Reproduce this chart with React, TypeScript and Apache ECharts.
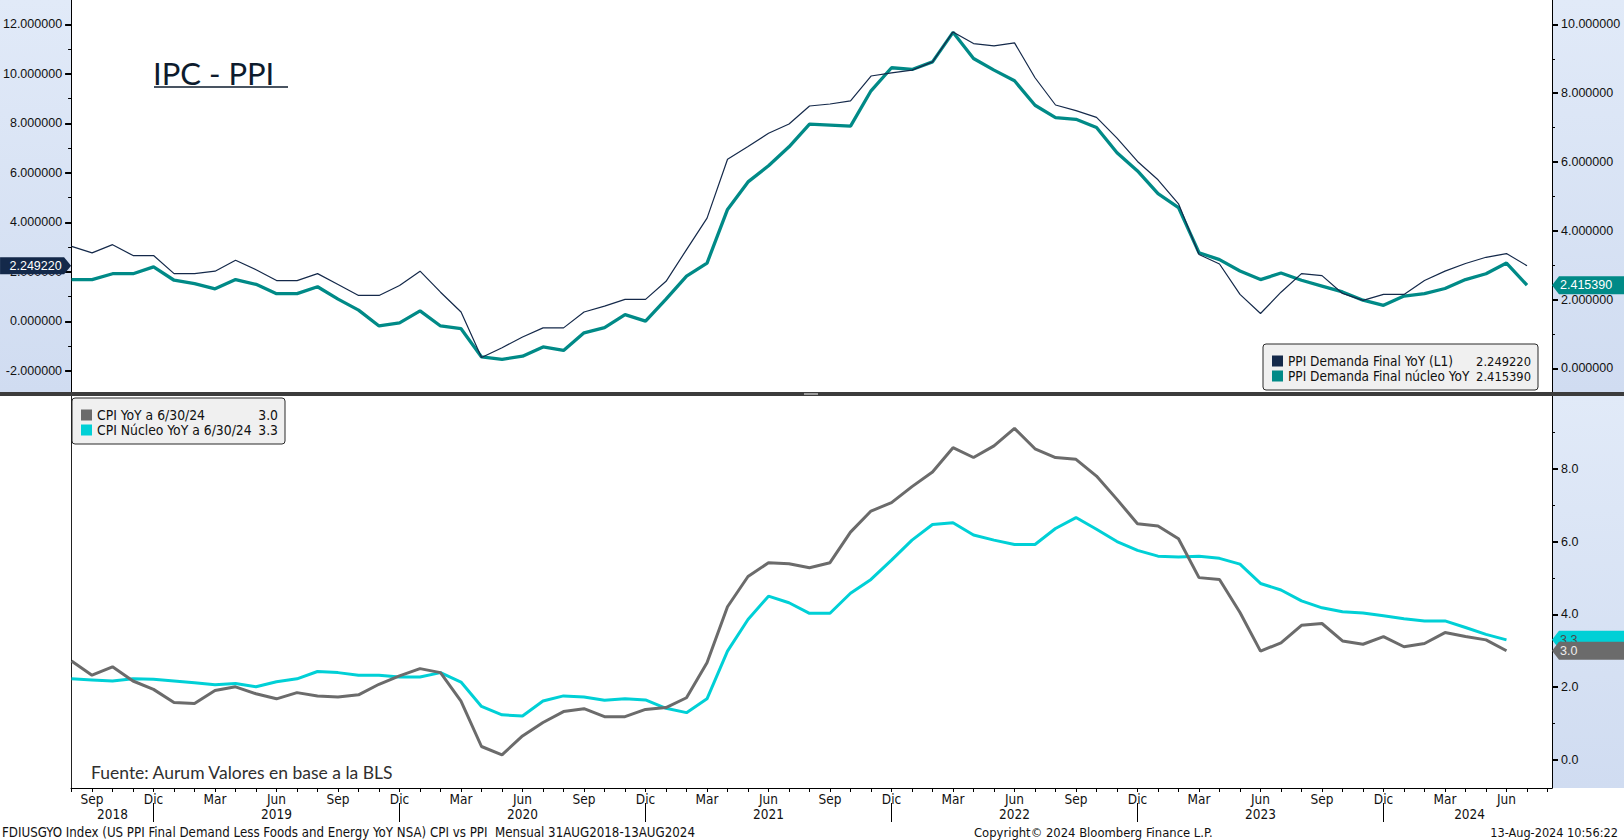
import React, { useEffect, useRef } from "react";
import * as echarts from "echarts";

// x positions are months counted from Jan 2018 (= 0); Aug 2018 = 7
const FIRST_MONTH = 7;
const X_MIN = 6.976;
const X_MAX = 79.22;

// PPI Final Demand YoY, Aug 2018 .. Jul 2024 (left axis)
const ppiFinalDemand = [
  3.03, 2.77, 3.1, 2.66, 2.66,
  1.93, 1.93, 2.03, 2.47, 2.09, 1.65, 1.65, 1.93, 1.49, 1.05, 1.05, 1.45,
  2.03, 1.18, 0.38, -1.46, -1.06, -0.63, -0.26, -0.26, 0.38, 0.62, 0.89, 0.89,
  1.62, 2.9, 4.17, 6.55, 7.06, 7.6, 7.97, 8.7, 8.78, 8.91, 9.91, 10.04,
  10.15, 10.48, 11.69, 11.22, 11.13, 11.25, 9.84, 8.74, 8.51, 8.24, 7.4, 6.46,
  5.72, 4.75, 2.7, 2.32, 1.09, 0.32, 1.18, 1.93, 1.85, 1.13, 0.85, 1.09,
  1.09, 1.65, 2.03, 2.34, 2.59, 2.74, 2.24922,
];

// PPI Final Demand less foods & energy YoY, Aug 2018 .. Jul 2024 (right axis)
const ppiCoreFinalDemand = [
  2.58, 2.58, 2.75, 2.75, 2.95,
  2.56, 2.46, 2.31, 2.58, 2.44, 2.17, 2.17, 2.37, 2.01, 1.69, 1.23, 1.32,
  1.67, 1.23, 1.15, 0.33, 0.26, 0.35, 0.62, 0.52, 1.03, 1.18, 1.56, 1.37,
  2.01, 2.68, 3.06, 4.62, 5.42, 5.89, 6.44, 7.1, 7.07, 7.04, 8.07, 8.74,
  8.69, 8.91, 9.77, 9.01, 8.67, 8.36, 7.65, 7.29, 7.24, 7.0, 6.27, 5.74,
  5.08, 4.67, 3.36, 3.16, 2.83, 2.58, 2.77, 2.56, 2.39, 2.22, 1.98, 1.83,
  2.1, 2.17, 2.32, 2.58, 2.75, 3.06, 2.41539,
];

// CPI YoY, Aug 2018 .. Jun 2024
const cpiYoY = [
  2.72, 2.33, 2.56, 2.17, 1.94,
  1.58, 1.55, 1.91, 2.01, 1.82, 1.68, 1.85, 1.76, 1.73, 1.79, 2.08, 2.31,
  2.51, 2.4, 1.62, 0.37, 0.14, 0.66, 1.03, 1.33, 1.41, 1.19, 1.19, 1.39,
  1.44, 1.71, 2.67, 4.21, 5.04, 5.42, 5.39, 5.28, 5.42, 6.26, 6.84, 7.07,
  7.51, 7.91, 8.58, 8.31, 8.63, 9.11, 8.55, 8.31, 8.26, 7.8, 7.16, 6.49,
  6.43, 6.08, 5.01, 4.96, 4.05, 2.99, 3.22, 3.7, 3.75, 3.27, 3.18, 3.39,
  3.11, 3.2, 3.5, 3.39, 3.3, 3.0,
];

// Core CPI YoY, Aug 2018 .. Jun 2024
const cpiCoreYoY = [
  2.23, 2.2, 2.17, 2.23, 2.22,
  2.17, 2.12, 2.07, 2.1, 2.01, 2.15, 2.23, 2.43, 2.4, 2.33, 2.33, 2.28,
  2.28, 2.4, 2.14, 1.47, 1.24, 1.21, 1.62, 1.76, 1.73, 1.64, 1.68, 1.65,
  1.42, 1.3, 1.68, 2.99, 3.86, 4.5, 4.32, 4.03, 4.03, 4.58, 4.96, 5.49,
  6.04, 6.47, 6.52, 6.18, 6.04, 5.92, 5.92, 6.36, 6.66, 6.34, 6.0, 5.76,
  5.6, 5.58, 5.6, 5.54, 5.38, 4.85, 4.67, 4.37, 4.18, 4.07, 4.04, 3.96,
  3.88, 3.82, 3.82, 3.64, 3.45, 3.3,
];

const seriesNames = [
  "PPI Demanda Final YoY (L1)",
  "PPI Demanda Final núcleo YoY",
  "CPI YoY a 6/30/24",
  "CPI Núcleo YoY a 6/30/24",
];
const seriesColors = ["#14294a", "#008a87", "#6b6b6b", "#00d0d6"];

const monthNames = ["Ene", "Feb", "Mar", "Abr", "May", "Jun", "Jul", "Ago", "Sep", "Oct", "Nov", "Dic"];
const monthLabelPos = [8, 11, 14, 17, 20, 23, 26, 29, 32, 35, 38, 41, 44, 47, 50, 53, 56, 59, 62, 65, 68, 71, 74, 77];
const yearLabels = ["2018", "2019", "2020", "2021", "2022", "2023", "2024"];
const yearLabelPos = [9, 17, 29, 41, 53, 65, 75.2];
const yearBreakPos = [11, 23, 35, 47, 59, 71];

const leftTicks = [-2, 0, 2, 4, 6, 8, 10, 12];
const leftMinorTicks = [-1, 1, 3, 5, 7, 9, 11];
const rightTopTicks = [0, 2, 4, 6, 8, 10];
const rightTopMinorTicks = [1, 3, 5, 7, 9];
const bottomTicks = [0, 2, 4, 6, 8];
const bottomMinorTicks = [1, 3, 5, 7, 9];

const titleText = "IPC - PPI";
const sourceText = "Fuente: Aurum Valores en base a la BLS";
const footerLeft = "FDIUSGYO Index (US PPI Final Demand Less Foods and Energy YoY NSA) CPI vs PPI  Mensual 31AUG2018-13AUG2024";
const footerCenter = "Copyright\u00A9 2024 Bloomberg Finance L.P.";
const footerRight = "13-Aug-2024 10:56:22";

const AXIS_FONT = "'Liberation Sans', Arial, sans-serif";
const NARROW_FONT = "'Liberation Sans Narrow', 'DejaVu Sans Condensed', 'Liberation Sans', sans-serif";
const BRAND_FONT = "Lato, 'Open Sans', sans-serif";

const toPairs = (vals: number[]) => vals.map((v, i) => [FIRST_MONTH + i, v]);
const last = (a: number[]) => a[a.length - 1];

const monthTicks: number[] = [];
for (let m = FIRST_MONTH; m <= Math.floor(X_MAX); m++) monthTicks.push(m);

function yAxisMain(gridIndex: number, position: string, min: number, max: number, ticks: number[], digits: number) {
  return {
    type: "value",
    gridIndex,
    position,
    min,
    max,
    axisLine: { show: true, onZero: false, lineStyle: { color: "#000", width: 1 } },
    axisTick: { show: true, customValues: ticks, length: 6, lineStyle: { color: "#000", width: 2 } },
    axisLabel: {
      show: true,
      customValues: ticks,
      formatter: (v: number) => v.toFixed(digits),
      margin: 9,
      color: "#111",
      fontSize: 12.5,
      fontFamily: AXIS_FONT,
    },
    splitLine: { show: false },
  };
}

function yAxisMinor(gridIndex: number, position: string, min: number, max: number, ticks: number[]) {
  return {
    type: "value",
    gridIndex,
    position,
    min,
    max,
    axisLine: { show: false, onZero: false },
    axisTick: { show: true, customValues: ticks, length: 3, lineStyle: { color: "#000", width: 1 } },
    axisLabel: { show: false },
    splitLine: { show: false },
  };
}

function tag(xSide: "left" | "right", value: number, text: string, color: string, textColor: string, z: number) {
  const isLeft = xSide === "left";
  return {
    silent: true,
    z,
    animation: false,
    symbol: isLeft ? "path://M0,0 L64,0 L71,8.5 L64,17 L0,17 Z" : "path://M0,8.5 L7,0 L72,0 L72,17 L7,17 Z",
    symbolSize: isLeft ? [71, 17] : [72, 18],
    symbolOffset: [isLeft ? "-50%" : "50%", 0],
    symbolKeepAspect: false,
    itemStyle: { color },
    label: {
      show: true,
      position: isLeft ? "inside" : "insideLeft",
      distance: 8,
      formatter: () => text,
      color: textColor,
      fontSize: 12.5,
      fontFamily: AXIS_FONT,
    },
    emphasis: { disabled: true },
    data: [{ coord: [isLeft ? X_MIN : X_MAX, value] }],
  };
}

function legendBox(
  x: number,
  y: number,
  w: number,
  items: { name: string; value: string; color: string }[],
  textX: number,
  valueX: number,
  fontSize: number,
  valueFontSize: number
) {
  const children: any[] = [
    {
      type: "rect",
      shape: { x, y, width: w, height: 46, r: 3 },
      style: { fill: "#f0f0f0", stroke: "#2a2a2a", lineWidth: 1 },
    },
  ];
  items.forEach((it, i) => {
    const cy = y + 17 + i * 15;
    children.push({ type: "rect", shape: { x: x + 9, y: cy - 5.5, width: 11, height: 11 }, style: { fill: it.color } });
    children.push({
      type: "text",
      x: textX,
      y: cy,
      style: { text: it.name, fill: "#111", fontSize, fontFamily: NARROW_FONT, align: "left", verticalAlign: "middle" },
    });
    children.push({
      type: "text",
      x: valueX,
      y: cy,
      style: { text: it.value, fill: "#111", fontSize: valueFontSize, fontFamily: NARROW_FONT, align: "right", verticalAlign: "middle" },
    });
  });
  return { type: "group", z: 20, silent: true, children };
}

export default function App() {
  const ref = useRef<HTMLDivElement>(null);

  useEffect(() => {
    if (!ref.current) return;
    const chart = echarts.init(ref.current, null, { renderer: "svg" });

    const band = () =>
      new echarts.graphic.LinearGradient(0, 0, 0, 1, [
        { offset: 0, color: "#e1eaf8" },
        { offset: 1, color: "#d0dcf1" },
      ]);

    const option: any = {
      animation: false,
      backgroundColor: "#ffffff",
      grid: [
        { left: 71, right: 72, top: 0, height: 392, containLabel: false },
        { left: 71, right: 72, top: 396, height: 392, containLabel: false },
      ],
      xAxis: [
        { type: "value", gridIndex: 0, min: X_MIN, max: X_MAX, show: false },
        {
          type: "value",
          gridIndex: 1,
          min: X_MIN,
          max: X_MAX,
          position: "bottom",
          axisLine: { show: true, onZero: false, lineStyle: { color: "#000", width: 1 } },
          axisTick: { show: true, customValues: monthTicks, length: 4, lineStyle: { color: "#000", width: 1 } },
          axisLabel: {
            show: true,
            customValues: monthLabelPos,
            formatter: (v: number) => monthNames[((Math.round(v) % 12) + 12) % 12],
            margin: 4,
            color: "#111",
            fontSize: 13.5,
            fontFamily: NARROW_FONT,
          },
          splitLine: { show: false },
        },
        {
          type: "value",
          gridIndex: 1,
          min: X_MIN,
          max: X_MAX,
          position: "bottom",
          offset: 15,
          axisLine: { show: false, onZero: false },
          axisTick: { show: true, customValues: yearBreakPos, length: 19, lineStyle: { color: "#000", width: 1 } },
          axisLabel: {
            show: true,
            customValues: yearLabelPos,
            formatter: (v: number) => {
              const i = yearLabelPos.findIndex((p) => Math.abs(p - v) < 1e-6);
              return i >= 0 ? yearLabels[i] : "";
            },
            margin: 4,
            color: "#111",
            fontSize: 13.5,
            fontFamily: NARROW_FONT,
          },
          splitLine: { show: false },
        },
      ],
      yAxis: [
        yAxisMain(0, "left", -2.85, 12.98, leftTicks, 6),
        yAxisMain(0, "right", -0.69, 10.71, rightTopTicks, 6),
        yAxisMinor(0, "left", -2.85, 12.98, leftMinorTicks),
        yAxisMinor(0, "right", -0.69, 10.71, rightTopMinorTicks),
        yAxisMain(1, "right", -0.77, 10.0, bottomTicks, 1),
        yAxisMinor(1, "right", -0.77, 10.0, bottomMinorTicks),
        {
          type: "value",
          gridIndex: 1,
          position: "left",
          min: -0.77,
          max: 10.0,
          axisLine: { show: true, onZero: false, lineStyle: { color: "#222", width: 1 } },
          axisTick: { show: false },
          axisLabel: { show: false },
          splitLine: { show: false },
        },
      ],
      series: [
        {
          name: seriesNames[0],
          type: "line",
          xAxisIndex: 0,
          yAxisIndex: 0,
          data: toPairs(ppiFinalDemand),
          symbol: "none",
          lineStyle: { color: seriesColors[0], width: 1.2 },
          itemStyle: { color: seriesColors[0] },
          z: 3,
          markPoint: tag("left", last(ppiFinalDemand), last(ppiFinalDemand).toFixed(6), seriesColors[0], "#ffffff", 6),
        },
        {
          name: seriesNames[1],
          type: "line",
          xAxisIndex: 0,
          yAxisIndex: 1,
          data: toPairs(ppiCoreFinalDemand),
          symbol: "none",
          lineStyle: { color: seriesColors[1], width: 3.3 },
          itemStyle: { color: seriesColors[1] },
          z: 2,
          markPoint: tag("right", last(ppiCoreFinalDemand), last(ppiCoreFinalDemand).toFixed(6), seriesColors[1], "#ffffff", 6),
        },
        {
          name: seriesNames[2],
          type: "line",
          xAxisIndex: 1,
          yAxisIndex: 4,
          data: toPairs(cpiYoY),
          symbol: "none",
          lineStyle: { color: seriesColors[2], width: 3 },
          itemStyle: { color: seriesColors[2] },
          z: 3,
          markPoint: tag("right", last(cpiYoY), last(cpiYoY).toFixed(1), seriesColors[2], "#eeeeee", 7),
        },
        {
          name: seriesNames[3],
          type: "line",
          xAxisIndex: 1,
          yAxisIndex: 4,
          data: toPairs(cpiCoreYoY),
          symbol: "none",
          lineStyle: { color: seriesColors[3], width: 3 },
          itemStyle: { color: seriesColors[3] },
          z: 2,
          markPoint: tag("right", last(cpiCoreYoY), last(cpiCoreYoY).toFixed(1), seriesColors[3], "#4a4a4a", 6),
        },
      ],
      graphic: [
        { type: "rect", z: -1, silent: true, shape: { x: 0, y: 0, width: 71, height: 392 }, style: { fill: band() } },
        { type: "rect", z: -1, silent: true, shape: { x: 1552, y: 0, width: 72, height: 392 }, style: { fill: band() } },
        { type: "rect", z: -1, silent: true, shape: { x: 1552, y: 396, width: 72, height: 392 }, style: { fill: band() } },
        { type: "rect", z: 15, silent: true, shape: { x: 0, y: 392, width: 1624, height: 4 }, style: { fill: "#3c3c3c" } },
        { type: "rect", z: 16, silent: true, shape: { x: 804, y: 393, width: 14, height: 2 }, style: { fill: "#9a9a9a" } },
        {
          type: "text",
          z: 10,
          silent: true,
          x: 153,
          y: 73,
          style: { text: titleText, fill: "#0d1b2d", fontSize: 31, fontFamily: BRAND_FONT, align: "left", verticalAlign: "middle" },
        },
        {
          type: "line",
          z: 10,
          silent: true,
          shape: { x1: 154, y1: 87, x2: 288, y2: 87 },
          style: { stroke: "#0d1b2d", lineWidth: 1.5 },
        },
        legendBox(
          1263,
          344,
          275,
          [
            { name: seriesNames[0], value: last(ppiFinalDemand).toFixed(6), color: seriesColors[0] },
            { name: seriesNames[1], value: last(ppiCoreFinalDemand).toFixed(6), color: seriesColors[1] },
          ],
          1288,
          1531,
          13.5,
          12.8
        ),
        legendBox(
          72,
          398,
          213,
          [
            { name: seriesNames[2], value: last(cpiYoY).toFixed(1), color: seriesColors[2] },
            { name: seriesNames[3], value: last(cpiCoreYoY).toFixed(1), color: seriesColors[3] },
          ],
          97,
          278,
          13.8,
          13.8
        ),
        {
          type: "text",
          z: 10,
          silent: true,
          x: 91,
          y: 772,
          style: { text: sourceText, fill: "#2f2f2f", fontSize: 17.5, fontFamily: BRAND_FONT, align: "left", verticalAlign: "middle" },
        },
        {
          type: "text",
          silent: true,
          x: 2,
          y: 832,
          style: { text: footerLeft, fill: "#111", fontSize: 13.2, fontFamily: NARROW_FONT, align: "left", verticalAlign: "middle" },
        },
        {
          type: "text",
          silent: true,
          x: 974,
          y: 832,
          style: { text: footerCenter, fill: "#111", fontSize: 12.9, fontFamily: NARROW_FONT, align: "left", verticalAlign: "middle" },
        },
        {
          type: "text",
          silent: true,
          x: 1618,
          y: 832,
          style: { text: footerRight, fill: "#111", fontSize: 12.6, fontFamily: NARROW_FONT, align: "right", verticalAlign: "middle" },
        },
      ],
    };

    chart.setOption(option);
    return () => chart.dispose();
  }, []);

  return (
    <div
      ref={ref}
      style={{ position: "fixed", left: 0, top: 0, width: 1624, height: 840, background: "#fff" }}
    />
  );
}
